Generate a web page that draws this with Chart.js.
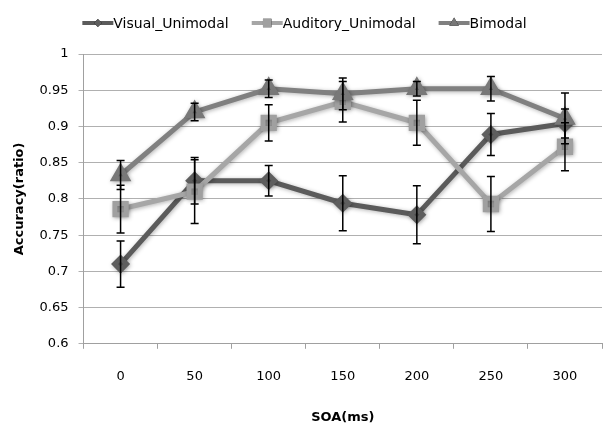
<!DOCTYPE html>
<html>
<head>
<meta charset="utf-8">
<script src="https://cdn.jsdelivr.net/npm/chart.js@4.4.0/dist/chart.umd.min.js"></script>
<style>
  html, body { margin: 0; padding: 0; background: #fff; }
  #wrap { width: 603px; height: 425px; }
</style>
</head>
<body>
<div id="wrap"><canvas id="accChart"></canvas></div>
<script>
const soaLabels = ['0', '50', '100', '150', '200', '250', '300'];

const visualAcc = [0.71, 0.825, 0.825, 0.794, 0.778, 0.889, 0.904];
const visualErr = [0.032, 0.032, 0.021, 0.038, 0.040, 0.029, 0.020];

const auditoryAcc = [0.786, 0.81, 0.905, 0.934, 0.905, 0.793, 0.872];
const auditoryErr = [0.033, 0.044, 0.025, 0.028, 0.031, 0.038, 0.033];

const bimodalAcc = [0.833, 0.92, 0.952, 0.945, 0.952, 0.952, 0.911];
const bimodalErr = [0.020, 0.012, 0.012, 0.022, 0.010, 0.017, 0.035];

const FONT = '"DejaVu Sans", sans-serif';

// error bars, drawn over the lines
const errorBars = {
  id: 'errorBars',
  afterDatasetsDraw(chart) {
    const ctx = chart.ctx;
    const y = chart.scales.y;
    ctx.save();
    ctx.strokeStyle = '#000';
    ctx.lineWidth = 1.5;
    chart.data.datasets.forEach((ds, i) => {
      const meta = chart.getDatasetMeta(i);
      meta.data.forEach((pt, j) => {
        const top = y.getPixelForValue(ds.data[j] + ds.err[j]);
        const bot = y.getPixelForValue(ds.data[j] - ds.err[j]);
        ctx.beginPath();
        ctx.moveTo(pt.x, top); ctx.lineTo(pt.x, bot);
        ctx.moveTo(pt.x - 4, top); ctx.lineTo(pt.x + 4, top);
        ctx.moveTo(pt.x - 4, bot); ctx.lineTo(pt.x + 4, bot);
        ctx.stroke();
      });
    });
    ctx.restore();
  }
};

// soft shadow like the office chart
const shadow = {
  id: 'shadow',
  beforeDatasetsDraw(chart) {
    chart.ctx.save();
    chart.ctx.shadowColor = 'rgba(0,0,0,0.3)';
    chart.ctx.shadowBlur = 4;
    chart.ctx.shadowOffsetX = 1;
    chart.ctx.shadowOffsetY = 1;
  },
  afterDatasetsDraw(chart) {
    chart.ctx.restore();
  }
};

// legend with line + marker sample
const lineLegend = {
  id: 'lineLegend',
  afterDraw(chart) {
    const ctx = chart.ctx;
    ctx.save();
    ctx.font = '14px ' + FONT;
    ctx.textBaseline = 'middle';
    const sample = 31, gap = 23, yy = 23;
    const items = chart.data.datasets;
    let total = 0;
    items.forEach((ds, i) => {
      total += sample + ctx.measureText(ds.label).width + (i < items.length - 1 ? gap : 0);
    });
    let x = (chart.width - total) / 2 + 3;
    items.forEach(ds => {
      ctx.strokeStyle = ds.borderColor;
      ctx.lineWidth = 4;
      ctx.beginPath();
      ctx.moveTo(x, yy); ctx.lineTo(x + sample, yy);
      ctx.stroke();
      Chart.helpers.drawPoint(ctx, {
        pointStyle: ds.pointStyle, radius: ds.pointRadius - 2, borderWidth: 0
      }, x + sample / 2, yy);
      ctx.fillStyle = ds.pointBackgroundColor;
      ctx.fill();
      ctx.fillStyle = '#000';
      ctx.fillText(ds.label, x + sample, yy + 1);
      x += sample + ctx.measureText(ds.label).width + gap;
    });
    ctx.restore();
  }
};

new Chart(document.getElementById('accChart'), {
  type: 'line',
  data: {
    labels: soaLabels,
    datasets: [
      {
        label: 'Visual_Unimodal', data: visualAcc, err: visualErr,
        borderColor: '#5b5b5b', backgroundColor: '#5b5b5b',
        pointBackgroundColor: '#5e5e5e', pointBorderColor: '#5e5e5e',
        pointStyle: 'rectRot', pointRadius: 6, borderWidth: 5, order: 3
      },
      {
        label: 'Auditory_Unimodal', data: auditoryAcc, err: auditoryErr,
        borderColor: '#a6a6a6', backgroundColor: '#a6a6a6',
        pointBackgroundColor: '#a0a0a0', pointBorderColor: '#a0a0a0',
        pointStyle: 'rect', pointRadius: 8, borderWidth: 5, order: 2
      },
      {
        label: 'Bimodal', data: bimodalAcc, err: bimodalErr,
        borderColor: '#808080', backgroundColor: '#808080',
        pointBackgroundColor: '#787878', pointBorderColor: '#787878',
        pointStyle: 'triangle', pointRadius: 7.5, borderWidth: 5, order: 1
      }
    ]
  },
  options: {
    responsive: true,
    maintainAspectRatio: false,
    animation: false,
    layout: { autoPadding: false, padding: { top: 54, right: 1, left: 0, bottom: 0 } },
    plugins: {
      legend: { display: false },
      tooltip: { enabled: false }
    },
    elements: { line: { tension: 0 }, point: { borderWidth: 1 } },
    scales: {
      x: {
        offset: true,
        grid: { offset: true, drawOnChartArea: false, color: '#a0a0a0', tickLength: 5 },
        border: { color: '#a0a0a0' },
        ticks: { color: '#000', font: { family: FONT, size: 13 }, padding: 20 },
        title: { display: true, text: 'SOA(ms)', color: '#000', font: { family: FONT, size: 13, weight: 'bold' }, padding: { top: 5, bottom: 0 } }
      },
      y: {
        min: 0.6, max: 1,
        grid: { color: '#b0b0b0', tickLength: 5 },
        border: { color: '#a0a0a0' },
        ticks: {
          stepSize: 0.05, color: '#000', font: { family: FONT, size: 13 }, padding: 10,
          callback: v => String(parseFloat(v.toFixed(2)))
        },
        title: { display: true, text: 'Accuracy(ratio)', color: '#000', font: { family: FONT, size: 13, weight: 'bold' }, padding: { top: 12, bottom: 2 } }
      }
    }
  },
  plugins: [shadow, errorBars, lineLegend]
});
</script>
</body>
</html>
